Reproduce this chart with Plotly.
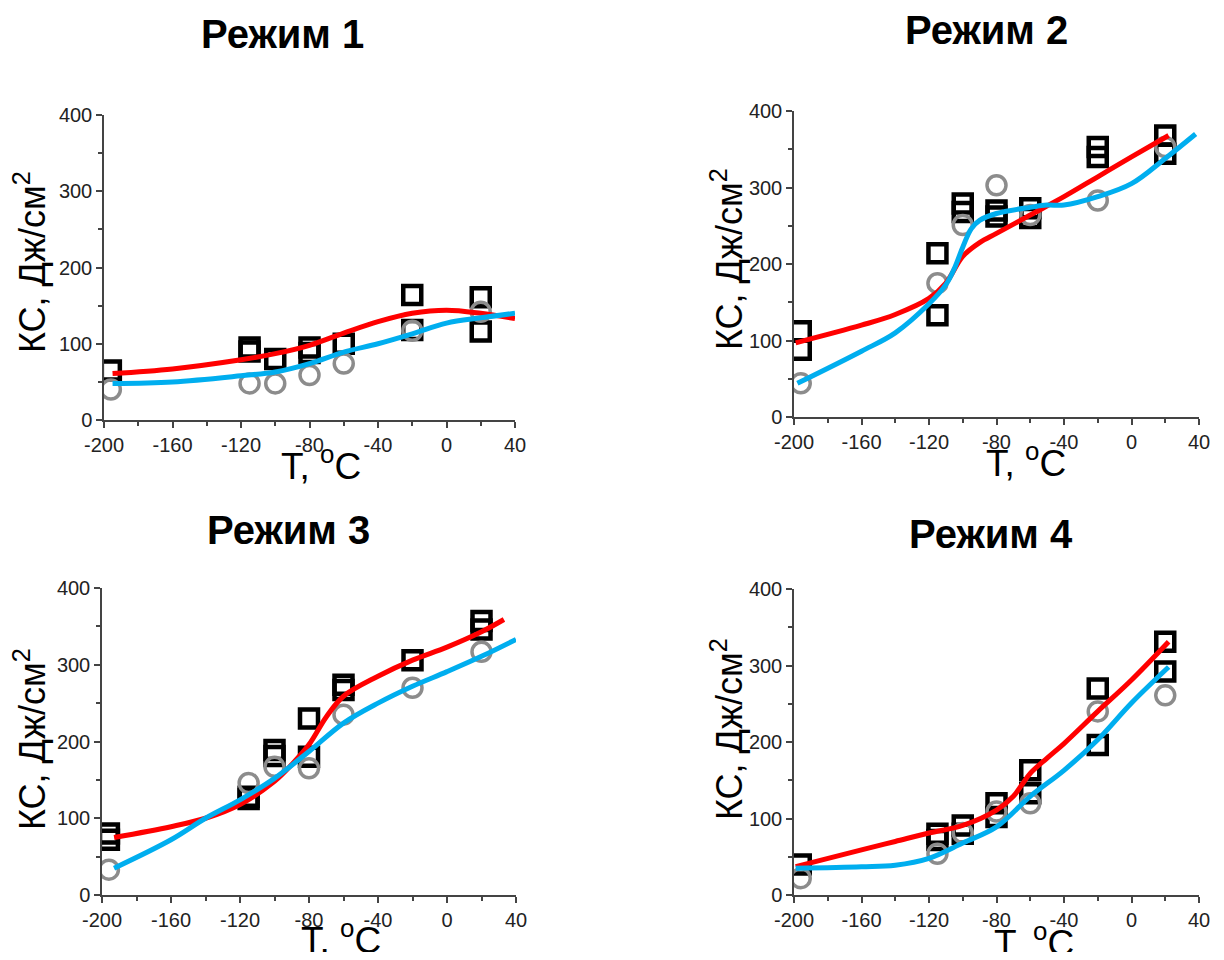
import plotly.graph_objects as go

# ---------------- data ----------------
titles = ["Режим 1", "Режим 2", "Режим 3", "Режим 4"]
x_title = "T, <sup>o</sup>C"
y_title = "КС, Дж/см<sup>2</sup>"

# Mode 1
m1_sq_T = [-196, -115, -115, -100, -80, -80, -60, -20, -20, 20, 20]
m1_sq_KC = [65, 90, 95, 80, 88, 95, 100, 164, 118, 161, 116]
m1_ci_T = [-196, -115, -100, -80, -60, -20, 20]
m1_ci_KC = [40, 48, 48, 59, 74, 117, 142]
m1_red_T = [-195, -160, -120, -100, -80, -60, -40, -20, 0, 20, 40]
m1_red_KC = [61, 67, 79, 87, 98, 114, 129, 140, 144, 140, 133]
m1_blue_T = [-195, -160, -120, -100, -80, -60, -40, -20, 0, 20, 40]
m1_blue_KC = [48, 50, 58, 63, 74, 89, 100, 113, 127, 134, 140]

# Mode 2
m2_sq_T = [-196, -196, -115, -115, -100, -100, -80, -80, -60, -60, -20, -20, 20, 20]
m2_sq_KC = [112, 88, 214, 133, 279, 268, 270, 262, 273, 260, 353, 340, 368, 344]
m2_ci_T = [-196, -115, -100, -80, -60, -20, 20]
m2_ci_KC = [44, 175, 251, 303, 264, 283, 353]
m2_red_T = [-199, -160, -140, -120, -110, -100, -90, -80, -60, -40, -20, 0, 22]
m2_red_KC = [97, 120, 134, 155, 175, 210, 228, 240, 264, 288, 314, 340, 368]
m2_blue_T = [-198, -160, -140, -120, -110, -105, -100, -95, -90, -80, -60, -50, -40, -20, 0, 20, 38]
m2_blue_KC = [44, 86, 110, 148, 173, 194, 222, 246, 257, 266, 274, 277, 277, 288, 305, 338, 370]

# Mode 3
m3_sq_T = [-196, -196, -115, -115, -100, -100, -80, -80, -60, -60, -20, 20, 20]
m3_sq_KC = [80, 72, 128, 125, 189, 181, 230, 180, 274, 267, 306, 357, 346]
m3_ci_T = [-196, -115, -100, -80, -60, -20, 20]
m3_ci_KC = [33, 146, 167, 165, 235, 270, 317]
m3_red_T = [-193, -160, -140, -120, -100, -90, -80, -70, -60, -40, -20, 0, 20, 33]
m3_red_KC = [75, 89, 100, 118, 148, 170, 196, 232, 259, 285, 306, 323, 343, 359]
m3_blue_T = [-193, -160, -140, -120, -100, -80, -60, -40, -20, 0, 20, 40]
m3_blue_KC = [35, 72, 100, 124, 152, 187, 224, 250, 272, 291, 311, 333]

# Mode 4
m4_sq_T = [-196, -115, -115, -100, -100, -80, -80, -60, -60, -20, -20, 20, 20]
m4_sq_KC = [40, 80, 72, 91, 80, 120, 102, 163, 133, 270, 196, 331, 292]
m4_ci_T = [-196, -115, -100, -80, -60, -20, 20]
m4_ci_KC = [22, 54, 81, 109, 120, 240, 261]
m4_red_T = [-199, -160, -140, -120, -100, -80, -70, -65, -60, -50, -40, -20, 0, 22]
m4_red_KC = [37, 59, 70, 81, 91, 111, 129, 144, 159, 179, 198, 240, 281, 331]
m4_blue_T = [-199, -160, -140, -120, -100, -80, -60, -40, -20, 0, 22]
m4_blue_KC = [35, 37, 39, 48, 68, 89, 129, 163, 203, 251, 298]

modes = [
    (m1_sq_T, m1_sq_KC, m1_ci_T, m1_ci_KC, m1_red_T, m1_red_KC, m1_blue_T, m1_blue_KC),
    (m2_sq_T, m2_sq_KC, m2_ci_T, m2_ci_KC, m2_red_T, m2_red_KC, m2_blue_T, m2_blue_KC),
    (m3_sq_T, m3_sq_KC, m3_ci_T, m3_ci_KC, m3_red_T, m3_red_KC, m3_blue_T, m3_blue_KC),
    (m4_sq_T, m4_sq_KC, m4_ci_T, m4_ci_KC, m4_red_T, m4_red_KC, m4_blue_T, m4_blue_KC),
]

x_ticks = [-200, -160, -120, -80, -40, 0, 40]
x_ticktext = ["-200", "-160", "-120", "-80", "-40", "0", "40"]
y_ticks = [0, 100, 200, 300, 400]

# ---------------- layout geometry (pixels in the 1224x960 page) ----------------
OFF = 8                      # page body margin in the browser
W, H = 1224 - 2 * OFF, 960 - 2 * OFF
boxes = [  # left, right, top, bottom (page pixels)
    (104, 515, 115, 420),
    (794, 1199, 111, 417),
    (102, 516, 588, 895),
    (794, 1199, 589, 895),
]
title_pos = [(282, 34), (987, 30), (288, 530), (991, 534)]
xtitle_pos = [(321, 463), (1026, 460), (341, 937), (1034, 940)]
ytitle_pos = [(30, 262), (727, 259), (30, 739), (727, 729)]


def px(x):
    return (x - OFF) / W


def py(y):
    return 1 - (y - OFF) / H


RED = "#ff0000"
BLUE = "#00aeef"
GRAY = "#8c8c8c"
AXC = "#444444"
FONT = "Liberation Sans, Arial, sans-serif"

fig = go.Figure()
layout = {}
annotations = []

for i, (sqT, sqK, ciT, ciK, rT, rK, bT, bK) in enumerate(modes):
    n = "" if i == 0 else str(i + 1)
    xa, ya = "x" + n, "y" + n
    fig.add_trace(go.Scatter(x=sqT, y=sqK, mode="markers", xaxis=xa, yaxis=ya,
                             marker=dict(symbol="square-open", size=18, color="#000000",
                                         line=dict(width=4.5, color="#000000")),
                             showlegend=False))
    fig.add_trace(go.Scatter(x=ciT, y=ciK, mode="markers", xaxis=xa, yaxis=ya,
                             marker=dict(symbol="circle-open", size=19, color=GRAY,
                                         line=dict(width=3.5, color=GRAY)),
                             showlegend=False))
    fig.add_trace(go.Scatter(x=rT, y=rK, mode="lines", xaxis=xa, yaxis=ya,
                             line=dict(color=RED, width=5, shape="spline", smoothing=1.0),
                             showlegend=False))
    fig.add_trace(go.Scatter(x=bT, y=bK, mode="lines", xaxis=xa, yaxis=ya,
                             line=dict(color=BLUE, width=5, shape="spline", smoothing=1.0),
                             showlegend=False))

    l, r, t, b = boxes[i]
    common = dict(showline=True, linecolor=AXC, linewidth=1.5, ticks="outside",
                  tickcolor=AXC, ticklen=6, tickwidth=1.5, showgrid=False, zeroline=False,
                  tickfont=dict(family=FONT, size=20, color="#222222"), mirror=False,
                  automargin=False)
    layout["xaxis" + n] = dict(common, domain=[px(l), px(r)], range=[-200, 40],
                               anchor=ya, tickvals=x_ticks, ticktext=x_ticktext,
                               minor=dict(dtick=20, ticks="outside", ticklen=4, tickcolor=AXC))
    layout["yaxis" + n] = dict(common, domain=[py(b), py(t)], range=[0, 400],
                               anchor=xa, tickvals=y_ticks,
                               minor=dict(dtick=50, ticks="outside", ticklen=4, tickcolor=AXC))
    tx, ty = title_pos[i]
    annotations.append(dict(text="<b>" + titles[i] + "</b>", x=px(tx), y=py(ty),
                            xref="paper", yref="paper", showarrow=False,
                            xanchor="center", yanchor="middle",
                            font=dict(family=FONT, size=40, color="#000000")))
    xx, xy = xtitle_pos[i]
    annotations.append(dict(text=x_title, x=px(xx), y=py(xy),
                            xref="paper", yref="paper", showarrow=False,
                            xanchor="center", yanchor="middle",
                            font=dict(family=FONT, size=37, color="#000000")))
    yx, yy = ytitle_pos[i]
    annotations.append(dict(text=y_title, x=px(yx), y=py(yy), textangle=-90,
                            xref="paper", yref="paper", showarrow=False,
                            xanchor="center", yanchor="middle",
                            font=dict(family=FONT, size=36, color="#000000")))

fig.update_layout(**layout)
fig.update_layout(width=W, height=H, margin=dict(l=0, r=0, t=0, b=0),
                  plot_bgcolor="white", paper_bgcolor="white",
                  annotations=annotations, showlegend=False)

fig.write_html("out.html")
